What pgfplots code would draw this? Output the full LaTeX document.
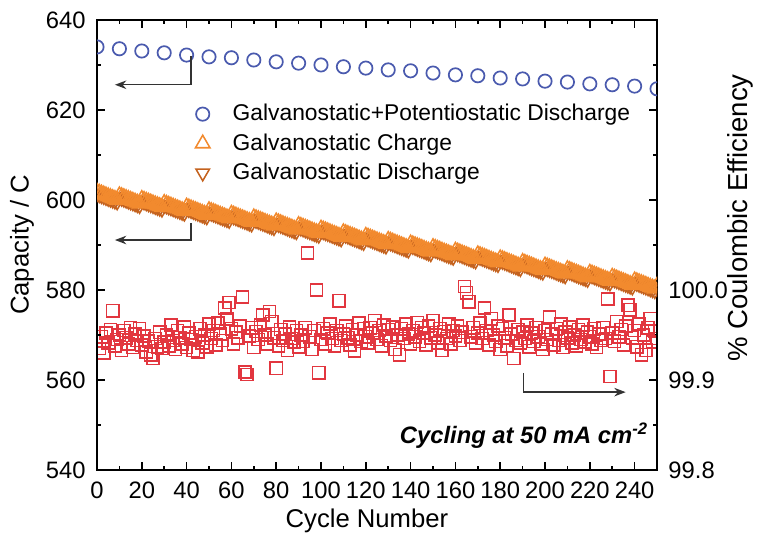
\documentclass[border=0pt]{standalone}
\usepackage{fontspec}
\setmainfont{Liberation Sans}
\usepackage{pgfplots}
\usepackage{pgfplotstable}
\pgfplotsset{compat=1.18}
\usetikzlibrary{arrows.meta}

\definecolor{gpblue}{HTML}{4A5AAE}
\definecolor{gcorange}{HTML}{F28A2E}
\definecolor{gdorange}{HTML}{C4621E}
\definecolor{cered}{HTML}{E2363F}

% cycle, galvanostatic charge, galvanostatic discharge (C)
\pgfplotstableread[row sep=\\]{
c ch dc\\
0 601.8 601.5\\ 1 601.6 601.3\\ 2 601.4 601.1\\ 3 601.2 600.9\\ 4 601.0 600.7\\ 5 600.8 600.5\\ 6 600.6 600.3\\ 7 600.4 600.1\\ 8 600.2 599.9\\ 9 600.0 599.7\\
10 601.0 600.7\\ 11 600.8 600.5\\ 12 600.6 600.3\\ 13 600.4 600.1\\ 14 600.2 599.9\\ 15 600.0 599.7\\ 16 599.8 599.5\\ 17 599.6 599.3\\ 18 599.4 599.1\\ 19 599.2 598.9\\
20 600.2 599.9\\ 21 600.0 599.7\\ 22 599.8 599.5\\ 23 599.6 599.3\\ 24 599.4 599.1\\ 25 599.2 598.9\\ 26 599.0 598.7\\ 27 598.8 598.5\\ 28 598.6 598.3\\ 29 598.4 598.1\\
30 599.3 599.0\\ 31 599.1 598.8\\ 32 598.9 598.6\\ 33 598.7 598.4\\ 34 598.5 598.2\\ 35 598.3 598.0\\ 36 598.1 597.8\\ 37 597.9 597.6\\ 38 597.7 597.4\\ 39 597.5 597.2\\
40 598.5 598.2\\ 41 598.3 598.0\\ 42 598.1 597.8\\ 43 597.9 597.6\\ 44 597.7 597.4\\ 45 597.5 597.2\\ 46 597.3 597.0\\ 47 597.1 596.8\\ 48 596.9 596.6\\ 49 596.7 596.4\\
50 597.7 597.4\\ 51 597.5 597.2\\ 52 597.3 597.0\\ 53 597.1 596.8\\ 54 596.9 596.6\\ 55 596.7 596.4\\ 56 596.5 596.2\\ 57 596.3 596.0\\ 58 596.1 595.8\\ 59 595.9 595.6\\
60 596.9 596.6\\ 61 596.7 596.4\\ 62 596.5 596.2\\ 63 596.3 596.0\\ 64 596.1 595.8\\ 65 595.9 595.6\\ 66 595.7 595.4\\ 67 595.5 595.2\\ 68 595.3 595.0\\ 69 595.1 594.8\\
70 596.1 595.8\\ 71 595.9 595.6\\ 72 595.7 595.4\\ 73 595.5 595.2\\ 74 595.3 595.0\\ 75 595.1 594.8\\ 76 594.9 594.6\\ 77 594.7 594.4\\ 78 594.5 594.2\\ 79 594.3 594.0\\
80 595.2 594.9\\ 81 595.0 594.7\\ 82 594.8 594.5\\ 83 594.6 594.3\\ 84 594.4 594.1\\ 85 594.2 593.9\\ 86 594.0 593.7\\ 87 593.8 593.5\\ 88 593.6 593.3\\ 89 593.4 593.1\\
90 594.4 594.1\\ 91 594.2 593.9\\ 92 594.0 593.7\\ 93 593.8 593.5\\ 94 593.6 593.3\\ 95 593.4 593.1\\ 96 593.2 592.9\\ 97 593.0 592.7\\ 98 592.8 592.5\\ 99 592.6 592.3\\
100 593.6 593.3\\ 101 593.4 593.1\\ 102 593.2 592.9\\ 103 593.0 592.7\\ 104 592.8 592.5\\ 105 592.6 592.3\\ 106 592.4 592.1\\ 107 592.2 591.9\\ 108 592.0 591.7\\ 109 591.8 591.5\\
110 592.8 592.5\\ 111 592.6 592.3\\ 112 592.4 592.1\\ 113 592.2 591.9\\ 114 592.0 591.7\\ 115 591.8 591.5\\ 116 591.6 591.3\\ 117 591.4 591.1\\ 118 591.2 590.9\\ 119 591.0 590.7\\
120 592.0 591.7\\ 121 591.8 591.5\\ 122 591.6 591.3\\ 123 591.4 591.1\\ 124 591.2 590.9\\ 125 591.0 590.7\\ 126 590.8 590.5\\ 127 590.6 590.3\\ 128 590.4 590.1\\ 129 590.2 589.9\\
130 591.1 590.8\\ 131 590.9 590.6\\ 132 590.7 590.4\\ 133 590.5 590.2\\ 134 590.3 590.0\\ 135 590.1 589.8\\ 136 589.9 589.6\\ 137 589.7 589.4\\ 138 589.5 589.2\\ 139 589.3 589.0\\
140 590.3 590.0\\ 141 590.1 589.8\\ 142 589.9 589.6\\ 143 589.7 589.4\\ 144 589.5 589.2\\ 145 589.3 589.0\\ 146 589.1 588.8\\ 147 588.9 588.6\\ 148 588.7 588.4\\ 149 588.5 588.2\\
150 589.5 589.2\\ 151 589.3 589.0\\ 152 589.1 588.8\\ 153 588.9 588.6\\ 154 588.7 588.4\\ 155 588.5 588.2\\ 156 588.3 588.0\\ 157 588.1 587.8\\ 158 587.9 587.6\\ 159 587.7 587.4\\
160 588.7 588.4\\ 161 588.5 588.2\\ 162 588.3 588.0\\ 163 588.1 587.8\\ 164 587.9 587.6\\ 165 587.7 587.4\\ 166 587.5 587.2\\ 167 587.3 587.0\\ 168 587.1 586.8\\ 169 586.9 586.6\\
170 587.9 587.6\\ 171 587.7 587.4\\ 172 587.5 587.2\\ 173 587.3 587.0\\ 174 587.1 586.8\\ 175 586.9 586.6\\ 176 586.7 586.4\\ 177 586.5 586.2\\ 178 586.3 586.0\\ 179 586.1 585.8\\
180 587.0 586.7\\ 181 586.8 586.5\\ 182 586.6 586.3\\ 183 586.4 586.1\\ 184 586.2 585.9\\ 185 586.0 585.7\\ 186 585.8 585.5\\ 187 585.6 585.3\\ 188 585.4 585.1\\ 189 585.2 584.9\\
190 586.2 585.9\\ 191 586.0 585.7\\ 192 585.8 585.5\\ 193 585.6 585.3\\ 194 585.4 585.1\\ 195 585.2 584.9\\ 196 585.0 584.7\\ 197 584.8 584.5\\ 198 584.6 584.3\\ 199 584.4 584.1\\
200 585.4 585.1\\ 201 585.2 584.9\\ 202 585.0 584.7\\ 203 584.8 584.5\\ 204 584.6 584.3\\ 205 584.4 584.1\\ 206 584.2 583.9\\ 207 584.0 583.7\\ 208 583.8 583.5\\ 209 583.6 583.3\\
210 584.6 584.3\\ 211 584.4 584.1\\ 212 584.2 583.9\\ 213 584.0 583.7\\ 214 583.8 583.5\\ 215 583.6 583.3\\ 216 583.4 583.1\\ 217 583.2 582.9\\ 218 583.0 582.7\\ 219 582.8 582.5\\
220 583.8 583.5\\ 221 583.6 583.3\\ 222 583.4 583.1\\ 223 583.2 582.9\\ 224 583.0 582.7\\ 225 582.8 582.5\\ 226 582.6 582.3\\ 227 582.4 582.1\\ 228 582.2 581.9\\ 229 582.0 581.7\\
230 582.9 582.6\\ 231 582.7 582.4\\ 232 582.5 582.2\\ 233 582.3 582.0\\ 234 582.1 581.8\\ 235 581.9 581.6\\ 236 581.7 581.4\\ 237 581.5 581.2\\ 238 581.3 581.0\\ 239 581.1 580.8\\
240 582.1 581.8\\ 241 581.9 581.6\\ 242 581.7 581.4\\ 243 581.5 581.2\\ 244 581.3 581.0\\ 245 581.1 580.8\\ 246 580.9 580.6\\ 247 580.7 580.4\\ 248 580.5 580.2\\ 249 580.3 580.0\\
250 580.9 580.6\\
}\capdata

% cycle, coulombic efficiency (%)
\pgfplotstableread[row sep=\\]{
c ce\\
1 99.935\\ 2 99.948\\ 3 99.930\\ 4 99.952\\ 5 99.941\\ 6 99.956\\ 7 99.977\\ 8 99.938\\ 9 99.945\\ 10 99.950\\
11 99.933\\ 12 99.955\\ 13 99.947\\ 14 99.940\\ 15 99.958\\ 16 99.936\\ 17 99.951\\ 18 99.944\\ 19 99.957\\ 20 99.939\\
21 99.949\\ 22 99.931\\ 23 99.943\\ 24 99.928\\ 25 99.924\\ 26 99.946\\ 27 99.937\\ 28 99.953\\ 29 99.935\\ 30 99.942\\
31 99.950\\ 32 99.938\\ 33 99.961\\ 34 99.944\\ 35 99.934\\ 36 99.955\\ 37 99.947\\ 38 99.940\\ 39 99.959\\ 40 99.936\\
41 99.952\\ 42 99.945\\ 43 99.933\\ 44 99.948\\ 45 99.931\\ 46 99.957\\ 47 99.941\\ 48 99.950\\ 49 99.937\\ 50 99.962\\
51 99.946\\ 52 99.955\\ 53 99.939\\ 54 99.963\\ 55 99.951\\ 56 99.944\\ 57 99.980\\ 58 99.968\\ 59 99.986\\ 60 99.957\\
61 99.940\\ 62 99.953\\ 63 99.947\\ 64 99.960\\ 65 99.992\\ 66 99.909\\ 67 99.906\\ 68 99.949\\ 69 99.958\\ 70 99.936\\
71 99.954\\ 72 99.945\\ 73 99.961\\ 74 99.972\\ 75 99.950\\ 76 99.940\\ 77 99.976\\ 78 99.965\\ 79 99.947\\ 80 99.913\\
81 99.938\\ 82 99.956\\ 83 99.944\\ 84 99.951\\ 85 99.933\\ 86 99.959\\ 87 99.946\\ 88 99.942\\ 89 99.955\\ 90 99.937\\
91 99.950\\ 92 99.943\\ 93 99.958\\ 94 100.041\\ 95 99.948\\ 96 99.934\\ 97 99.955\\ 98 100.000\\ 99 99.908\\ 100 99.945\\
101 99.957\\ 102 99.940\\ 103 99.952\\ 104 99.962\\ 105 99.946\\ 106 99.938\\ 107 99.955\\ 108 99.988\\ 109 99.944\\ 110 99.951\\
111 99.960\\ 112 99.947\\ 113 99.939\\ 114 99.956\\ 115 99.932\\ 116 99.950\\ 117 99.963\\ 118 99.943\\ 119 99.957\\ 120 99.948\\
121 99.941\\ 122 99.958\\ 123 99.952\\ 124 99.966\\ 125 99.945\\ 126 99.955\\ 127 99.938\\ 128 99.961\\ 129 99.949\\ 130 99.956\\
131 99.944\\ 132 99.959\\ 133 99.934\\ 134 99.950\\ 135 99.928\\ 136 99.957\\ 137 99.946\\ 138 99.962\\ 139 99.951\\ 140 99.940\\
141 99.955\\ 142 99.948\\ 143 99.964\\ 144 99.943\\ 145 99.958\\ 146 99.952\\ 147 99.939\\ 148 99.960\\ 149 99.947\\ 150 99.966\\
151 99.950\\ 152 99.941\\ 153 99.957\\ 154 99.933\\ 155 99.954\\ 156 99.946\\ 157 99.962\\ 158 99.940\\ 159 99.955\\ 160 99.949\\
161 99.960\\ 162 99.944\\ 163 99.953\\ 164 100.004\\ 165 99.997\\ 166 99.987\\ 167 99.948\\ 168 99.958\\ 169 99.941\\ 170 99.952\\
171 99.963\\ 172 99.946\\ 173 99.980\\ 174 99.955\\ 175 99.939\\ 176 99.968\\ 177 99.950\\ 178 99.943\\ 179 99.960\\ 180 99.934\\
181 99.957\\ 182 99.947\\ 183 99.938\\ 184 99.972\\ 185 99.951\\ 186 99.924\\ 187 99.944\\ 188 99.956\\ 189 99.941\\ 190 99.953\\
191 99.946\\ 192 99.961\\ 193 99.937\\ 194 99.952\\ 195 99.943\\ 196 99.958\\ 197 99.948\\ 198 99.940\\ 199 99.934\\ 200 99.955\\
201 99.945\\ 202 99.970\\ 203 99.951\\ 204 99.939\\ 205 99.957\\ 206 99.944\\ 207 99.962\\ 208 99.936\\ 209 99.953\\ 210 99.947\\
211 99.959\\ 212 99.941\\ 213 99.950\\ 214 99.938\\ 215 99.956\\ 216 99.945\\ 217 99.961\\ 218 99.942\\ 219 99.953\\ 220 99.948\\
221 99.940\\ 222 99.957\\ 223 99.936\\ 224 99.951\\ 225 99.944\\ 226 99.958\\ 227 99.946\\ 228 99.990\\ 229 99.904\\ 230 99.952\\
231 99.943\\ 232 99.965\\ 233 99.948\\ 234 99.956\\ 235 99.939\\ 236 99.960\\ 237 99.983\\ 238 99.978\\ 239 99.947\\ 240 99.955\\
241 99.937\\ 242 99.962\\ 243 99.928\\ 244 99.950\\ 245 99.933\\ 246 99.958\\ 247 99.968\\ 248 99.942\\ 249 99.954\\ 250 99.946\\
}\cedata

\pgfplotsset{
  common/.style={
    width=10.357cm, height=8.323cm, scale only axis,
    xmin=0, xmax=250,
    tick align=inside,
    major tick length=0.15cm, minor tick length=0.08cm,
    every tick/.style={black, line width=0.8pt},
    axis line style={line width=0.9pt},
    tick label style={font=\fontsize{12.5}{14}\selectfont},
    label style={font=\fontsize{13.5}{15}\selectfont},
    /pgf/number format/assume math mode=true,
  },
}

\begin{document}
\begin{tikzpicture}
% right axis: coulombic efficiency
\begin{axis}[common,
  axis x line=none, axis y line*=right,
  ymin=99.8, ymax=100.3,
  ytick={99.8,99.9,100.0,100.1,100.2,100.3},
  yticklabels={99.8,99.9,100.0,,,},
  minor y tick num=1,
  yticklabel style={xshift=2.5pt},
  ylabel={\% Coulombic Efficiency},
  ylabel style={at={(axis description cs:1.148,0.56)}, anchor=center, rotate=0,
    font=\fontsize{14.5}{16}\selectfont},
  clip marker paths=true,
]
\addplot[only marks, mark=square, mark size=3.2pt, cered, line width=0.8pt]
  table[x=c, y=ce]{\cedata};
\end{axis}
% left axis: capacity
\begin{axis}[common,
  ymin=540, ymax=640,
  xtick={0,20,...,240}, minor x tick num=1,
  ytick={540,560,...,640}, minor y tick num=1,
  xtick pos=both, xticklabel pos=bottom, ytick pos=left,
  yticklabel style={xshift=-2.5pt},
  xticklabel style={yshift=-3pt},
  xlabel={Cycle Number}, ylabel={Capacity / C},
  xlabel style={at={(axis description cs:0.482,-0.113)}, anchor=center},
  ylabel style={at={(axis description cs:-0.134,0.5)}, anchor=center},
  clip marker paths=true,
  legend cell align=left,
  legend style={draw=none, fill=none, at={(0.165,0.83)}, anchor=north west,
    font=\fontsize{12}{14}\selectfont, row sep=1.3pt},
]
\addplot[only marks, mark=o, mark size=3.5pt, gpblue, line width=0.9pt] coordinates {
  (0,634.0) (10,633.6) (20,633.1) (30,632.7) (40,632.2) (50,631.8) (60,631.6)
  (70,631.1) (80,630.7) (90,630.4) (100,630.0) (110,629.6) (120,629.3) (130,628.9)
  (140,628.7) (150,628.2) (160,627.8) (170,627.6) (180,627.1) (190,626.9) (200,626.4)
  (210,626.2) (220,625.8) (230,625.6) (240,625.3) (250,624.7)
};
\addlegendentry{\hspace{0.35cm}Galvanostatic+Potentiostatic Discharge}
\addplot[only marks, mark=triangle, mark size=4.4pt, mark options={rotate=180},
  gdorange, line width=0.8pt, forget plot] table[x=c, y=dc]{\capdata};
\addplot[only marks, mark=triangle, mark size=4.4pt, gcorange, line width=0.8pt]
  table[x=c, y=ch]{\capdata};
\addlegendentry{\hspace{0.35cm}Galvanostatic Charge}
\addlegendimage{only marks, mark=triangle, mark size=4.1pt, mark options={rotate=180}, gdorange, line width=0.8pt}
\addlegendentry{\hspace{0.35cm}Galvanostatic Discharge}

\draw[line width=0.7pt, black!80, -{Stealth[length=6pt,width=4.5pt]}]
  (axis cs:42,632.0) -- (axis cs:42,625.6) -- (axis cs:8,625.6);
\draw[line width=0.7pt, black!80, -{Stealth[length=6pt,width=4.5pt]}]
  (axis cs:42,594.9) -- (axis cs:42,591.1) -- (axis cs:8,591.1);
\draw[line width=0.7pt, black!80, -{Stealth[length=6pt,width=4.5pt]}]
  (axis cs:190.5,561.6) -- (axis cs:190.5,557.3) -- (axis cs:236,557.3);
\node[anchor=east, font=\bfseries\itshape\fontsize{12.5}{14}\selectfont]
  at (axis cs:249,547.6) {Cycling at 50 mA cm\textsuperscript{-2}};
\end{axis}
\pgfresetboundingbox
\path[use as bounding box] (-1.794cm,-1.165cm) rectangle (12.206cm,8.692cm);
\end{tikzpicture}
\end{document}
